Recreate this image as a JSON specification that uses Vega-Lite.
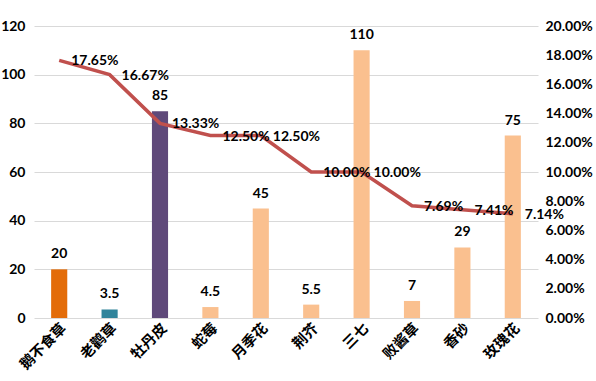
{
  "$schema": "https://vega.github.io/schema/vega-lite/v6.json",
  "autosize": {"type": "none"},
  "padding": {"left": 34, "top": 26, "right": 58, "bottom": 63},
  "width": 504,
  "height": 292,
  "background": "white",
  "data": {"values": [
    {"name": "鹅不食草", "count": 20, "pct": 0.1765},
    {"name": "老鹳草", "count": 3.5, "pct": 0.1667},
    {"name": "牡丹皮", "count": 85, "pct": 0.1333},
    {"name": "蛇莓", "count": 4.5, "pct": 0.125},
    {"name": "月季花", "count": 45, "pct": 0.125},
    {"name": "荆芥", "count": 5.5, "pct": 0.10},
    {"name": "三七", "count": 110, "pct": 0.10},
    {"name": "败酱草", "count": 7, "pct": 0.0769},
    {"name": "香砂", "count": 29, "pct": 0.0741},
    {"name": "玫瑰花", "count": 75, "pct": 0.0714}
  ]},
  "encoding": {
    "x": {"field": "name", "type": "nominal", "sort": null,
      "scale": {"paddingInner": 0.68, "paddingOuter": 0.34},
      "axis": {"title": null, "labelAngle": -45, "labelAlign": "right", "labelBaseline": "top",
        "labelFont": "Noto Sans CJK SC", "labelFontWeight": "bold", "labelFontSize": 14.5, "labelColor": "#000",
        "ticks": false, "domain": false, "labelPadding": 3, "labelOverlap": false}}
  },
  "layer": [
    {
      "encoding": {
        "y": {"field": "count", "type": "quantitative",
          "scale": {"domain": [0, 120]},
          "axis": {"title": null, "values": [0, 20, 40, 60, 80, 100, 120], "grid": true, "gridColor": "#d9d9d9",
            "domain": false, "ticks": false, "labelFont": "Lato", "labelFontWeight": "bold", "labelFontSize": 14,
            "labelColor": "#000", "labelPadding": 9, "labelOverlap": false}}
      },
      "layer": [
        {"mark": {"type": "bar"},
          "encoding": {
            "color": {"field": "name", "type": "nominal", "legend": null,
              "scale": {"domain": ["鹅不食草", "老鹳草", "牡丹皮", "蛇莓", "月季花", "荆芥", "三七", "败酱草", "香砂", "玫瑰花"],
                "range": ["#E36C09", "#31849B", "#5F497A", "#FAC08F", "#FAC08F", "#FAC08F", "#FAC08F", "#FAC08F", "#FAC08F", "#FAC08F"]}}
          }},
        {"mark": {"type": "text", "dy": -15, "font": "Lato", "fontWeight": "bold", "fontSize": 14, "color": "#000"},
          "encoding": {
            "text": {"field": "count", "type": "quantitative"}
          }}
      ]
    },
    {
      "encoding": {
        "y": {"field": "pct", "type": "quantitative",
          "scale": {"domain": [0, 0.2]},
          "axis": {"title": null, "orient": "right", "format": ".2%", "values": [0, 0.02, 0.04, 0.06, 0.08, 0.1, 0.12, 0.14, 0.16, 0.18, 0.2],
            "grid": false, "domain": false, "ticks": false, "labelFont": "Lato", "labelFontWeight": "bold",
            "labelFontSize": 14, "labelColor": "#000", "labelPadding": 7, "labelOverlap": false}}
      },
      "layer": [
        {"mark": {"type": "line", "color": "#C0504D", "strokeWidth": 3.5}, "encoding": {}},
        {"mark": {"type": "text", "align": "left", "dx": 12, "dy": 1, "font": "Lato", "fontWeight": "bold", "fontSize": 14, "color": "#000"},
          "encoding": {
            "text": {"field": "pct", "type": "quantitative", "format": ".2%"}
          }}
      ]
    }
  ],
  "resolve": {"scale": {"y": "independent"}},
  "config": {"view": {"stroke": null}}
}
